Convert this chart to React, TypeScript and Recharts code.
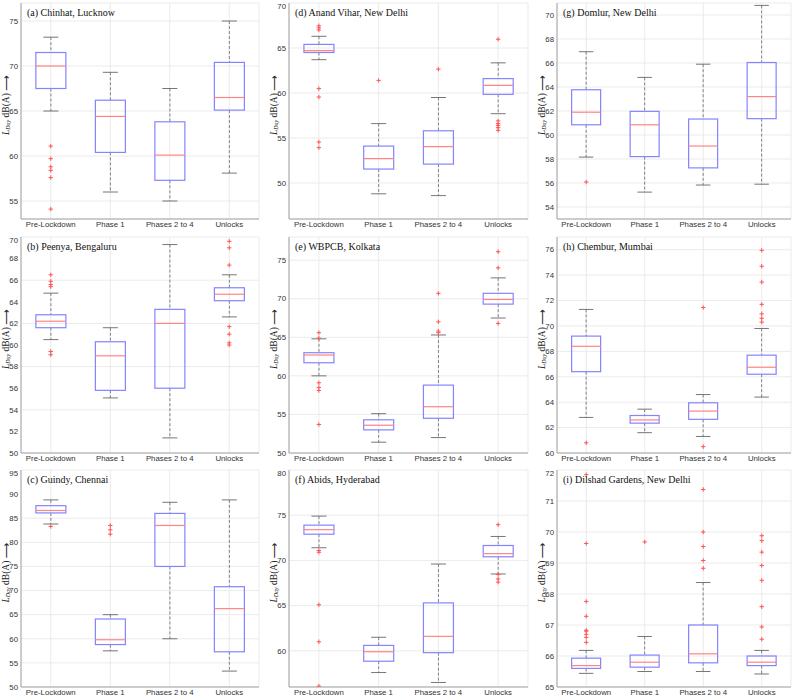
import { ComposedChart, Bar, Line, XAxis, YAxis, CartesianGrid } from 'recharts';

const categories = ['Pre-Lockdown', 'Phase 1', 'Phases 2 to 4', 'Unlocks'];

// each row: [lower whisker, q1, median, q3, upper whisker]
const chinhatStats = [
  [65.0, 67.5, 70.0, 71.5, 73.2],
  [56.0, 60.4, 64.4, 66.2, 69.3],
  [55.0, 57.3, 60.1, 63.8, 67.5],
  [58.1, 65.1, 66.5, 70.4, 75.0],
];
const chinhatOutliers = [[61.1, 59.7, 58.8, 58.4, 57.6, 54.1], [], [], []];
const chinhatTicks = [55, 60, 65, 70, 75];

const anandStats = [
  [63.7, 64.5, 64.7, 65.4, 66.3],
  [48.8, 51.55, 52.7, 54.1, 56.6],
  [48.6, 52.1, 54.05, 55.8, 59.5],
  [57.7, 59.85, 60.85, 61.6, 63.35],
];
const anandOutliers = [
  [67.47, 67.24, 67.0, 60.49, 59.55, 54.55, 53.93],
  [61.4],
  [62.65],
  [65.97, 56.9, 56.6, 56.4, 56.15, 55.85],
];
const anandTicks = [50, 55, 60, 65, 70];

const domlurStats = [
  [58.16, 60.85, 61.9, 63.77, 66.94],
  [55.24, 58.2, 60.85, 61.97, 64.8],
  [55.83, 57.26, 59.08, 61.33, 65.9],
  [55.9, 61.36, 63.2, 66.04, 70.8],
];
const domlurOutliers = [[56.08], [], [], []];
const domlurTicks = [54, 56, 58, 60, 62, 64, 66, 68, 70];

const peenyaStats = [
  [60.5, 61.6, 62.2, 62.8, 64.8],
  [55.1, 55.8, 59.0, 60.3, 61.6],
  [51.4, 56.0, 62.0, 63.3, 69.3],
  [62.6, 64.1, 64.7, 65.3, 66.5],
];
const peenyaOutliers = [
  [66.5, 65.9, 65.6, 65.4, 59.4, 59.1],
  [],
  [],
  [69.6, 69.0, 67.4, 61.7, 61.0, 60.2, 60.0],
];
const peenyaTicks = [50, 52, 54, 56, 58, 60, 62, 64, 66, 68, 70];

const wbpcbStats = [
  [60.0, 61.7, 62.7, 63.0, 64.8],
  [51.4, 53.0, 53.6, 54.3, 55.1],
  [52.0, 54.5, 56.0, 58.8, 65.3],
  [67.5, 69.3, 69.9, 70.7, 72.7],
];
const wbpcbOutliers = [
  [65.6, 64.9, 59.1, 58.5, 58.1, 53.7],
  [],
  [70.7, 67.0, 65.8, 65.6],
  [76.1, 74.0, 66.8],
];
const wbpcbTicks = [50, 55, 60, 65, 70, 75];

const chemburStats = [
  [62.8, 66.4, 68.4, 69.2, 71.3],
  [61.6, 62.35, 62.6, 62.95, 63.45],
  [61.3, 62.65, 63.3, 63.95, 64.6],
  [64.4, 66.2, 66.75, 67.7, 69.8],
];
const chemburOutliers = [
  [60.8],
  [],
  [71.45, 60.5],
  [75.95, 74.7, 73.45, 71.7, 70.95, 70.6, 70.3],
];
const chemburTicks = [60, 62, 64, 66, 68, 70, 72, 74, 76];

const guindyStats = [
  [83.8, 86.1, 86.6, 87.6, 88.8],
  [57.5, 58.8, 59.8, 64.1, 65.0],
  [60.0, 75.0, 83.5, 86.0, 88.3],
  [53.3, 57.3, 66.25, 70.8, 88.8],
];
const guindyOutliers = [[83.3], [83.5, 82.6, 81.7], [], []];
const guindyTicks = [50, 55, 60, 65, 70, 75, 80, 85, 90, 95];

const abidsStats = [
  [71.4, 72.9, 73.4, 73.9, 74.9],
  [57.6, 58.85, 59.9, 60.6, 61.5],
  [56.5, 59.8, 61.6, 65.3, 69.6],
  [68.5, 70.4, 70.75, 71.65, 72.65],
];
const abidsOutliers = [[71.1, 70.9, 65.1, 61.0, 56.1], [], [], [73.95, 68.45, 67.95, 67.6]];
const abidsTicks = [60, 65, 70, 75, 80];

const dilshadStats = [
  [65.44, 65.6, 65.69, 65.93, 66.18],
  [65.5, 65.64, 65.8, 66.03, 66.63],
  [65.5, 65.78, 66.07, 67.0, 68.37],
  [65.42, 65.69, 65.8, 66.0, 66.18],
];
const dilshadOutliers = [
  [71.85, 69.63, 67.76, 67.28, 66.83, 66.8, 66.7, 66.6, 66.44],
  [69.68],
  [71.37, 70.0, 69.53, 69.08, 68.83],
  [69.88, 69.72, 69.35, 68.92, 68.44, 67.59, 66.94, 66.54],
];
const dilshadTicks = [65, 66, 67, 68, 69, 70, 71, 72];

const panels = [
  { title: '(a) Chinhat, Lucknow', stats: chinhatStats, outliers: chinhatOutliers, ticks: chinhatTicks, domain: [53, 77], row: 0, col: 0 },
  { title: '(d) Anand Vihar, New Delhi', stats: anandStats, outliers: anandOutliers, ticks: anandTicks, domain: [46, 70], row: 0, col: 1 },
  { title: '(g) Domlur, New Delhi', stats: domlurStats, outliers: domlurOutliers, ticks: domlurTicks, domain: [53, 71], row: 0, col: 2 },
  { title: '(b) Peenya, Bengaluru', stats: peenyaStats, outliers: peenyaOutliers, ticks: peenyaTicks, domain: [50, 70], row: 1, col: 0 },
  { title: '(e) WBPCB, Kolkata', stats: wbpcbStats, outliers: wbpcbOutliers, ticks: wbpcbTicks, domain: [50, 78], row: 1, col: 1 },
  { title: '(h) Chembur, Mumbai', stats: chemburStats, outliers: chemburOutliers, ticks: chemburTicks, domain: [60, 77], row: 1, col: 2 },
  { title: '(c) Guindy, Chennai', stats: guindyStats, outliers: guindyOutliers, ticks: guindyTicks, domain: [50, 95], row: 2, col: 0 },
  { title: '(f) Abids, Hyderabad', stats: abidsStats, outliers: abidsOutliers, ticks: abidsTicks, domain: [56, 80], row: 2, col: 1 },
  { title: '(i) Dilshad Gardens, New Delhi', stats: dilshadStats, outliers: dilshadOutliers, ticks: dilshadTicks, domain: [65, 72], row: 2, col: 2 },
];

// plot-area placement of the 3x3 grid
const colBoxes = [
  { left: 21, width: 237 },
  { left: 289, width: 238 },
  { left: 557, width: 233 },
];
const rowBoxes = [
  { top: 3, height: 215 },
  { top: 237, height: 215 },
  { top: 470, height: 216 },
];

const AXIS_W = 24;
const XAXIS_H = 12;
const FRAME = '#a3a3a3';
const TICK_FONT = { fontSize: 7.8, fill: '#333', fontFamily: "'Liberation Sans', Arial, sans-serif" };

const BoxShape = (props: any) => {
  const { x, y, width, height, payload } = props;
  const { lo, q1, med, q3, hi } = payload;
  const top = Math.min(y, y + height);
  const h = Math.abs(height);
  const k = h / (hi - lo);
  const py = (v: number) => top + (hi - v) * k;
  const cx = x + width / 2;
  const cap = width / 4;
  return (
    <g>
      <line x1={cx} x2={cx} y1={py(hi)} y2={py(q3)} stroke="#666" strokeWidth={0.8} strokeDasharray="3 2" />
      <line x1={cx} x2={cx} y1={py(q1)} y2={py(lo)} stroke="#666" strokeWidth={0.8} strokeDasharray="3 2" />
      <line x1={cx - cap} x2={cx + cap} y1={py(hi)} y2={py(hi)} stroke="#666" strokeWidth={0.9} />
      <line x1={cx - cap} x2={cx + cap} y1={py(lo)} y2={py(lo)} stroke="#666" strokeWidth={0.9} />
      <rect x={x} y={py(q3)} width={width} height={py(q1) - py(q3)} fill="none" stroke="#8484ff" strokeWidth={1.2} />
      <line x1={x} x2={x + width} y1={py(med)} y2={py(med)} stroke="#ff8484" strokeWidth={1.2} />
    </g>
  );
};

const PlusDot = (props: any) => {
  const { cx, cy, value, index } = props;
  if (value == null || cy == null || Number.isNaN(cy)) return <g key={index} />;
  return (
    <path key={index} d={`M${cx - 2.2},${cy}h4.4M${cx},${cy - 2.2}v4.4`} stroke="#ff5555" strokeWidth={1} fill="none" />
  );
};

const YLabel = (props: any) => {
  const { viewBox } = props;
  const lx = viewBox.x + 9;
  const ly = viewBox.y + viewBox.height / 2 - 6;
  return (
    <text
      x={lx}
      y={ly}
      transform={`rotate(-90 ${lx} ${ly})`}
      textAnchor="middle"
      dominantBaseline="central"
      fontFamily="'Liberation Serif', serif"
      fontSize={9.5}
      fill="#222"
    >
      <tspan fontStyle="italic">L</tspan>
      <tspan fontStyle="italic" fontSize={6} dy={2}>Day</tspan>
      <tspan dy={-2}> dB(A) </tspan>
      <tspan fontFamily="'DejaVu Sans', sans-serif" fontSize={11}>⟶</tspan>
    </text>
  );
};

const BoxPanel = ({ panel }: { panel: (typeof panels)[number] }) => {
  const cb = colBoxes[panel.col];
  const rb = rowBoxes[panel.row];
  const maxOut = Math.max(...panel.outliers.map((o) => o.length));
  const data = categories.map((name, i) => {
    const [lo, q1, med, q3, hi] = panel.stats[i];
    const row: Record<string, any> = { name, range: [lo, hi], lo, q1, med, q3, hi };
    panel.outliers[i].forEach((v, k) => {
      row['o' + k] = v;
    });
    return row;
  });
  const width = cb.width + AXIS_W + 2;
  const height = rb.height + XAXIS_H + 2;
  return (
    <div style={{ position: 'absolute', left: cb.left - AXIS_W, top: rb.top - 1 }}>
      <ComposedChart
        width={width}
        height={height}
        data={data}
        margin={{ top: 1, right: 1, bottom: 0, left: 0 }}
        barCategoryGap="25%"
      >
        <CartesianGrid stroke="#e6e6e6" strokeWidth={0.8} />
        <XAxis
          dataKey="name"
          interval={0}
          height={XAXIS_H}
          tickLine={false}
          tickSize={0}
          tickMargin={2}
          axisLine={{ stroke: FRAME }}
          tick={TICK_FONT}
        />
        <XAxis xAxisId="top" orientation="top" dataKey="name" height={0} tick={false} tickLine={false} axisLine={{ stroke: FRAME }} />
        <YAxis
          domain={panel.domain}
          ticks={panel.ticks}
          allowDataOverflow
          width={AXIS_W}
          tickLine={false}
          tickSize={0}
          tickMargin={3}
          axisLine={{ stroke: FRAME }}
          tick={TICK_FONT}
          label={<YLabel />}
        />
        <YAxis yAxisId="right" orientation="right" domain={panel.domain} width={0} tick={false} tickLine={false} axisLine={{ stroke: FRAME }} />
        <Bar dataKey="range" shape={<BoxShape />} isAnimationActive={false} activeBar={false} />
        {Array.from({ length: maxOut }, (_, k) => (
          <Line
            key={k}
            dataKey={'o' + k}
            stroke="none"
            dot={PlusDot}
            activeDot={false}
            isAnimationActive={false}
            legendType="none"
          />
        ))}
      </ComposedChart>
      <div
        style={{
          position: 'absolute',
          left: AXIS_W + 6,
          top: 5,
          fontFamily: "'Liberation Serif', 'Times New Roman', serif",
          fontSize: 10,
          color: '#111',
          whiteSpace: 'nowrap',
        }}
      >
        {panel.title}
      </div>
    </div>
  );
};

const App = (): React.ReactElement => {
  return (
    <div style={{ position: 'absolute', left: 0, top: 0, width: 800, height: 697, background: '#fff', overflow: 'hidden' }}>
      {panels.map((p) => (
        <BoxPanel key={p.title} panel={p} />
      ))}
    </div>
  );
};

export default App;
